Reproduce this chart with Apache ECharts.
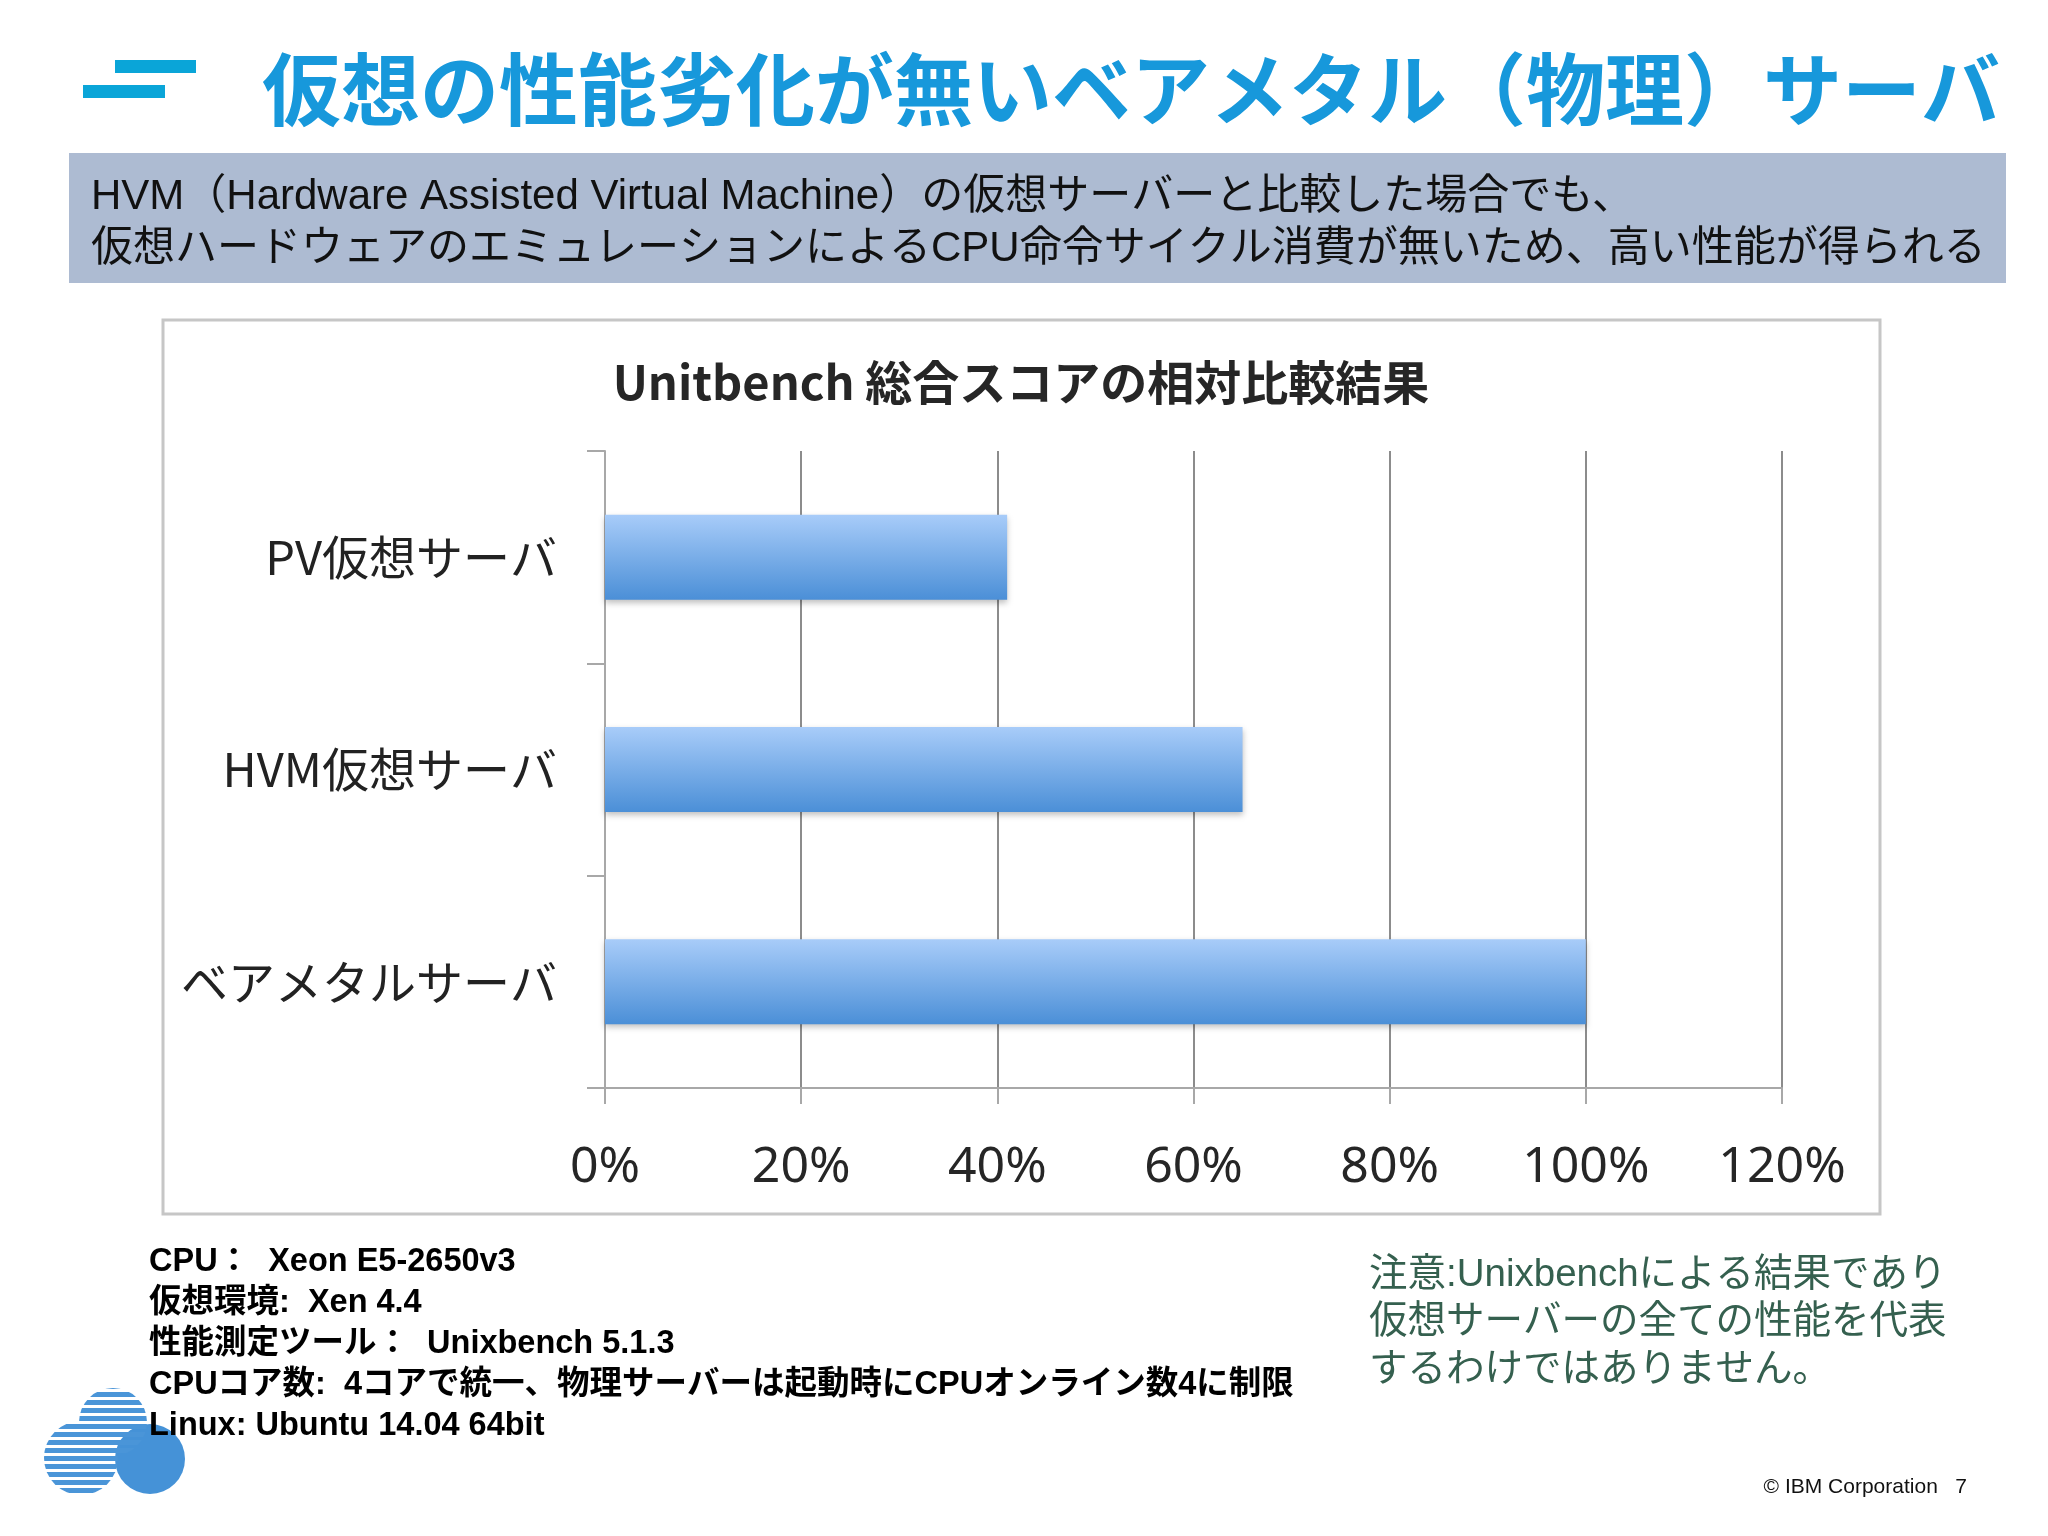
<!DOCTYPE html>
<html>
<head>
<meta charset="utf-8">
<script src="https://cdn.jsdelivr.net/npm/echarts@6/dist/echarts.min.js"></script>
<style>
html,body{margin:0;padding:0;background:#fff;}
#chart{width:2048px;height:1536px;}
</style>
</head>
<body>
<div id="chart"></div>
<script>
// ---- data ----
const categories = ['PV仮想サーバ', 'HVM仮想サーバ', 'ベアメタルサーバ'];
const scores = [41, 65, 100];           // relative Unixbench score (%)
const xMin = 0, xMax = 120, xStep = 20; // tick labels 0% .. 120%

const pageTitle = '仮想の性能劣化が無いベアメタル（物理）サーバ';
const boxLines = [
  'HVM（Hardware Assisted Virtual Machine）の仮想サーバーと比較した場合でも、',
  '仮想ハードウェアのエミュレーションによるCPU命令サイクル消費が無いため、高い性能が得られる'
];
const chartTitle = 'Unitbench 総合スコアの相対比較結果';
const specLines = [
  'CPU：  Xeon E5-2650v3',
  '仮想環境:  Xen 4.4',
  '性能測定ツール：  Unixbench 5.1.3',
  'CPUコア数:  4コアで統一、物理サーバーは起動時にCPUオンライン数4に制限',
  'Linux: Ubuntu 14.04 64bit'
];
const noteLines = [
  '注意:Unixbenchによる結果であり',
  '仮想サーバーの全ての性能を代表',
  'するわけではありません。'
];
const footer = '© IBM Corporation   7';

// stripe pattern for logo
const stripe = document.createElement('canvas');
stripe.width = 8; stripe.height = 8;
(function(){
  const c = stripe.getContext('2d');
  c.fillStyle = '#4a95d8';
  c.fillRect(0, 0, 8, 5);
})();

const chart = echarts.init(document.getElementById('chart'), null, {renderer: 'canvas'});

const CJK = '"Noto Sans CJK JP", "Noto Sans", sans-serif';
const SANS = '"Liberation Sans", Arial, "Noto Sans CJK JP", sans-serif';

const graphics = [
  // title icon
  {type: 'rect', shape: {x: 115, y: 60, width: 81, height: 13}, style: {fill: '#0aa5d8'}},
  {type: 'rect', shape: {x: 83, y: 85, width: 82, height: 13}, style: {fill: '#0aa5d8'}},
  {type: 'text', style: {text: pageTitle, x: 262, y: 90, font: 'bold 79px ' + CJK, fill: '#1798db', verticalAlign: 'middle'}},
  // grey box
  {type: 'rect', shape: {x: 69, y: 153, width: 1937, height: 130}, style: {fill: '#adbbd2'}},
  {type: 'text', style: {text: boxLines[0], x: 91, y: 197, font: '42px ' + SANS, fill: '#111', verticalAlign: 'middle'}},
  {type: 'text', style: {text: boxLines[1], x: 91, y: 249, font: '42px ' + SANS, fill: '#111', verticalAlign: 'middle'}},
  // chart frame
  {type: 'rect', shape: {x: 163, y: 320, width: 1717, height: 894}, style: {fill: 'none', stroke: '#c6c6c6', lineWidth: 3}, z: -1},
  {type: 'text', style: {text: chartTitle, x: 1021, y: 382, font: 'bold 47px ' + CJK, fill: '#262626', align: 'center', verticalAlign: 'middle'}},
  // footer
  {type: 'text', style: {text: footer, x: 1967, y: 1487, font: '21px ' + SANS, fill: '#111', align: 'right', verticalAlign: 'middle'}},
  // logo
  {type: 'circle', shape: {cx: 150, cy: 1459, r: 35}, style: {fill: '#4592d7'}},
  {type: 'circle', shape: {cx: 113, cy: 1422, r: 34}, style: {fill: {type: 'pattern', image: stripe, repeat: 'repeat'}}},
  {type: 'circle', shape: {cx: 81, cy: 1458, r: 37}, style: {fill: {type: 'pattern', image: stripe, repeat: 'repeat'}}}
];
specLines.forEach((t, i) => {
  graphics.push({type: 'text', z: 10, style: {text: t, x: 149, y: 1262 + i * 41, font: 'bold 32.5px ' + SANS, fill: '#000', verticalAlign: 'middle'}});
});
noteLines.forEach((t, i) => {
  graphics.push({type: 'text', style: {text: t, x: 1369, y: 1275 + i * 47.5, font: '38.5px ' + SANS, fill: '#35604f', verticalAlign: 'middle'}});
});

chart.setOption({
  animation: false,
  backgroundColor: '#fff',
  grid: {left: 605, top: 451, width: 1177, height: 637, containLabel: false},
  xAxis: {
    type: 'value', min: xMin, max: xMax, interval: xStep,
    axisLine: {show: true, lineStyle: {color: '#a8a8a8', width: 2}},
    axisTick: {show: true, length: 16, lineStyle: {color: '#a8a8a8', width: 2}},
    splitLine: {show: true, lineStyle: {color: '#8c8c8c', width: 2}},
    axisLabel: {formatter: '{value}%', margin: 55, fontSize: 50, fontFamily: '"Noto Sans", sans-serif', color: '#262626'}
  },
  yAxis: {
    type: 'category', data: categories, inverse: true,
    axisLine: {show: true, lineStyle: {color: '#a8a8a8', width: 2}},
    axisTick: {show: true, length: 18, alignWithLabel: false, lineStyle: {color: '#a8a8a8', width: 2}},
    axisLabel: {margin: 48, fontSize: 47, fontFamily: CJK, color: '#222'}
  },
  series: [{
    type: 'bar', data: scores, barWidth: 85,
    itemStyle: {
      color: new echarts.graphic.LinearGradient(0, 0, 0, 1, [
        {offset: 0, color: '#a8ccf9'},
        {offset: 1, color: '#4b8fd7'}
      ]),
      shadowColor: 'rgba(0,0,0,0.25)', shadowBlur: 6, shadowOffsetY: 3
    }
  }],
  graphic: graphics
});
</script>
</body>
</html>
